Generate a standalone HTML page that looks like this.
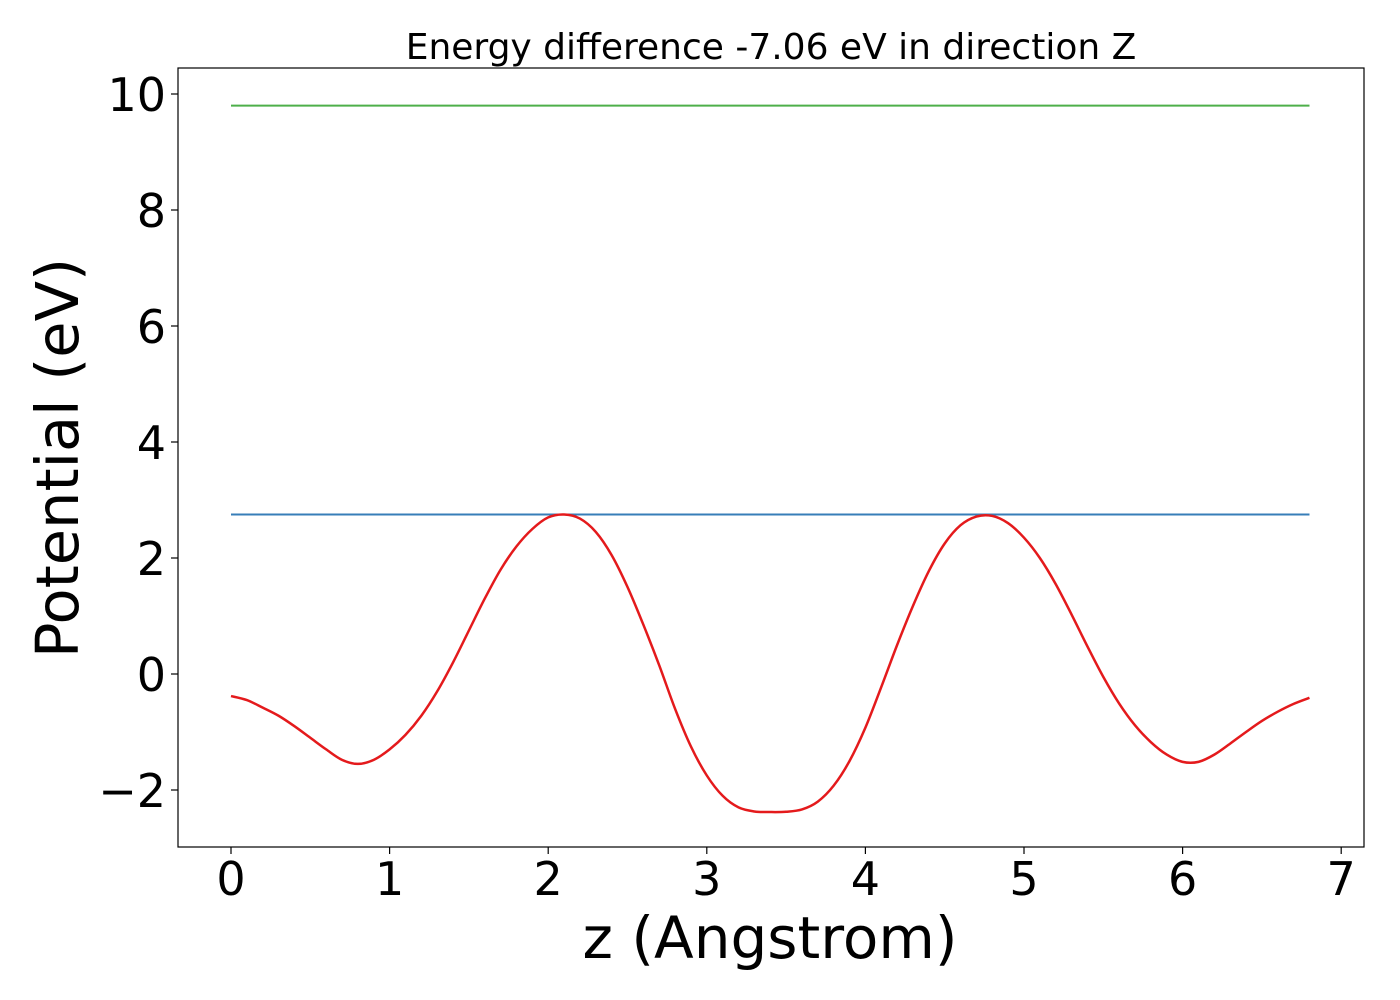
<!DOCTYPE html>
<html><head><meta charset="utf-8"><style>body{margin:0;background:#fff}svg{display:block}text{font-family:"DejaVu Sans","Liberation Sans",sans-serif}</style></head>
<body>
<svg id="chart" width="1400" height="1000">
<rect x="0" y="0" width="1400" height="1000" fill="#fff"/>
<text x="771" y="59" font-size="36" text-anchor="middle">Energy difference -7.06 eV in direction Z</text>
<g id="plot"></g>
<rect x="178" y="68" width="1186" height="779" fill="none" stroke="#000" stroke-width="1.2"/>
<text x="770" y="958" font-size="58" text-anchor="middle">z (Angstrom)</text>
<text transform="translate(78,458) rotate(-90)" font-size="59" text-anchor="middle">Potential (eV)</text>
</svg>
<script>
const zVals=[0,0.1,0.2,0.3,0.4,0.5,0.6,0.7,0.8,0.9,1.0,1.1,1.2,1.3,1.4,1.5,1.6,1.7,1.8,1.9,2.0,2.1,2.2,2.3,2.4,2.5,2.6,2.7,2.8,2.9,3.0,3.1,3.2,3.3,3.4,3.5,3.6,3.7,3.8,3.9,4.0,4.1,4.2,4.3,4.4,4.5,4.6,4.7,4.8,4.9,5.0,5.1,5.2,5.3,5.4,5.5,5.6,5.7,5.8,5.9,6.0,6.1,6.2,6.3,6.4,6.5,6.6,6.7,6.8];
const potVals=[-0.38,-0.45,-0.58,-0.72,-0.9,-1.1,-1.3,-1.48,-1.55,-1.48,-1.3,-1.05,-0.72,-0.3,0.2,0.75,1.3,1.8,2.2,2.5,2.7,2.75,2.68,2.45,2.05,1.5,0.85,0.15,-0.6,-1.25,-1.75,-2.1,-2.3,-2.37,-2.38,-2.375,-2.335,-2.2,-1.925,-1.5,-0.925,-0.225,0.5,1.175,1.775,2.25,2.565,2.715,2.725,2.6,2.35,2.0,1.55,1.025,0.475,-0.05,-0.51,-0.885,-1.175,-1.39,-1.515,-1.515,-1.39,-1.2,-1.0,-0.81,-0.65,-0.515,-0.41];
const blueLevel=2.75;
const greenLevel=9.8;
const xTicks=[0,1,2,3,4,5,6,7];
const yTicks=[-2,0,2,4,6,8,10];
const sx=v=>231+v*158.6;
const sy=v=>674-v*58;
const NS="http://www.w3.org/2000/svg";
const g=document.getElementById('plot');
function mk(t,a){const e=document.createElementNS(NS,t);for(const k in a)e.setAttribute(k,a[k]);g.appendChild(e);return e;}
const zMin=zVals[0],zMax=zVals[zVals.length-1];
let l=mk('line',{x1:sx(zMin),x2:sx(zMax),y1:sy(greenLevel),y2:sy(greenLevel),stroke:'#4daf4a','stroke-width':2});


l=mk('line',{x1:sx(zMin),x2:sx(zMax),y1:sy(blueLevel),y2:sy(blueLevel),stroke:'#377eb8','stroke-width':2});


const P=zVals.map((z,i)=>[sx(z),sy(potVals[i])]);
let d='M'+P[0][0]+','+P[0][1];
for(let i=0;i<P.length-1;i++){
 const p0=P[Math.max(i-1,0)],p1=P[i],p2=P[i+1],p3=P[Math.min(i+2,P.length-1)];
 const c1=[p1[0]+(p2[0]-p0[0])/6,p1[1]+(p2[1]-p0[1])/6];
 const c2=[p2[0]-(p3[0]-p1[0])/6,p2[1]-(p3[1]-p1[1])/6];
 d+=' C'+c1[0]+','+c1[1]+' '+c2[0]+','+c2[1]+' '+p2[0]+','+p2[1];
}
const p=mk('path',{d:d,fill:'none',stroke:'#e41a1c','stroke-width':2.5,'stroke-linejoin':'round'});


xTicks.forEach(t=>{
 const tk=mk('line',{x1:sx(t),x2:sx(t),y1:847,y2:854,stroke:'#000','stroke-width':1.2});
 
 
 const tx=mk('text',{x:sx(t),y:895,'font-size':46,'text-anchor':'middle'});tx.textContent=t;
 
 
});
yTicks.forEach(t=>{
 const tk=mk('line',{x1:171,x2:178,y1:sy(t),y2:sy(t),stroke:'#000','stroke-width':1.2});
 
 
 const tx=mk('text',{x:166,y:sy(t)+17,'font-size':46,'text-anchor':'end'});tx.textContent=t<0?'\u2212'+(-t):t;
 
 
});
</script>
</body></html>
